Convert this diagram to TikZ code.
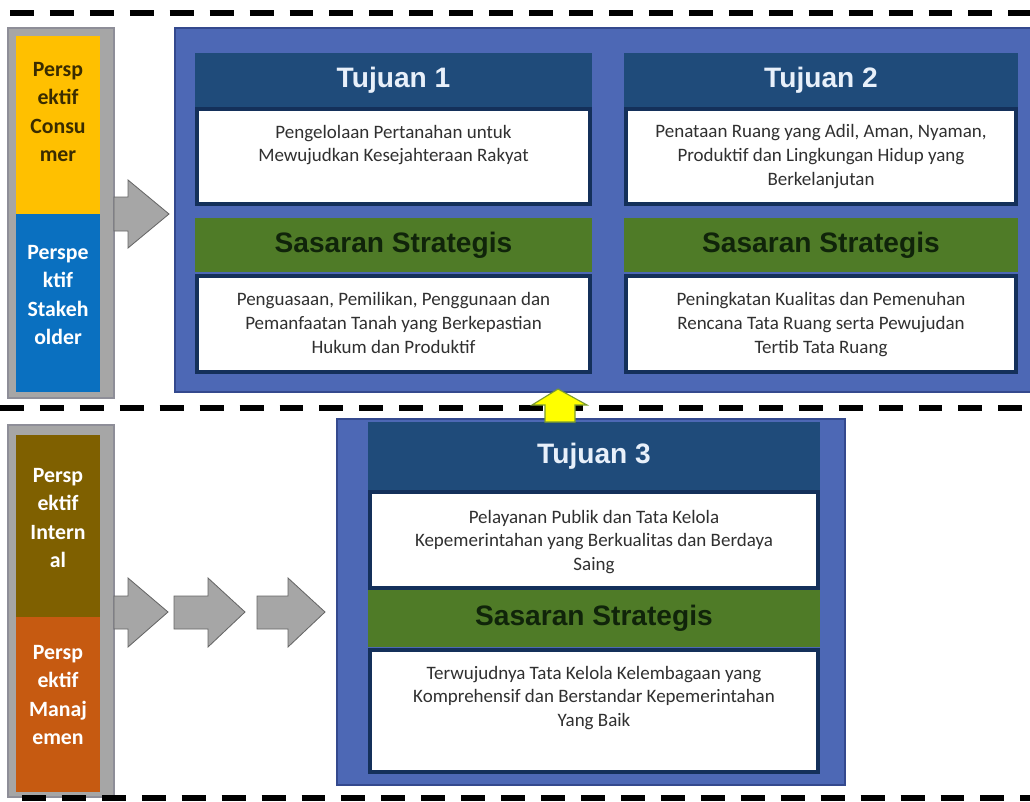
\documentclass[tikz,border=0pt]{standalone}
\usepackage{fontspec}
\setmainfont{Carlito}
\newfontfamily\headfont{Liberation Sans}
\usetikzlibrary{positioning}

\definecolor{panelblue}{HTML}{4D68B5}
\definecolor{panelline}{HTML}{34498E}
\definecolor{headblue}{HTML}{1F4B7A}
\definecolor{headtext}{HTML}{E8F0FA}
\definecolor{navyline}{HTML}{14305A}
\definecolor{sasgreen}{HTML}{4F7B27}
\definecolor{sastext}{HTML}{10240A}
\definecolor{framegray}{HTML}{A6A6A6}
\definecolor{framegrayline}{HTML}{8E8E98}
\definecolor{consyellow}{HTML}{FFC000}
\definecolor{stakeblue}{HTML}{0A70C0}
\definecolor{intolive}{HTML}{7F6000}
\definecolor{manorange}{HTML}{C65A11}
\definecolor{darkbrown}{HTML}{3A2C00}
\definecolor{bodytext}{HTML}{303030}
\definecolor{upyellow}{HTML}{FFFF00}
\definecolor{upline}{HTML}{7A9A30}

\newcommand\pxu{0.025cm}

\tikzset{
  panel/.style={draw=panelline, line width=1.5pt, fill=panelblue, inner sep=0pt},
  header/.style={fill=headblue, text=headtext, inner sep=0pt,
    font=\headfont\bfseries\fontsize{20}{22}\selectfont},
  sasaran/.style={fill=sasgreen, text=sastext, inner sep=0pt,
    font=\headfont\bfseries\fontsize{20}{22}\selectfont},
  descbox/.style={draw=navyline, line width=2.2pt, fill=white, inner sep=0pt},
  desctext/.style={align=center, text=bodytext, inner sep=0pt,
    font=\fontsize{13.5}{17}\selectfont},
  frame/.style={draw=framegrayline, line width=0.8pt, fill=framegray, inner sep=0pt},
  perspbox/.style={inner sep=0pt, minimum width=84*\pxu},
  persplabel/.style={align=center, text=white, inner sep=0pt,
    font=\bfseries\fontsize{15.5}{20}\selectfont},
  sepline/.style={line width=3.8pt, dash pattern=on 17pt off 11.4pt},
  grayarrow/.style={draw=gray!80!black, line width=0.6pt, fill=framegray},
}

\begin{document}
\begin{tikzpicture}[x=0.025cm, y=-0.025cm]
  \useasboundingbox (0,0) rectangle (1030,801);
  \clip (0,0) rectangle (1030,801);

  % dashed separators
  \draw[sepline] (10,13) -- (1030,13);
  \draw[sepline] (0,408) -- (1030,408);

  % perspektif columns
  \node[frame, minimum width=106*\pxu, minimum height=370*\pxu] (framea) at (61,213) {};
  \node[perspbox, fill=consyellow, minimum height=178*\pxu] (consumer) at (58,125) {};
  \node[perspbox, fill=stakeblue, minimum height=178*\pxu] (stakeholder) at (58,303) {};
  \node[persplabel, text=darkbrown] (consumertxt) at (58,112) {Persp\\ektif\\Consu\\mer};
  \node[persplabel] (stakeholdertxt) at (58,295) {Perspe\\ktif\\Stakeh\\older};

  \node[frame, minimum width=106*\pxu, minimum height=372*\pxu] (frameb) at (61,611) {};
  \node[perspbox, fill=intolive, minimum height=182*\pxu] (internal) at (58,526) {};
  \node[perspbox, fill=manorange, minimum height=175*\pxu] (manajemen) at (58,704.5) {};
  \node[persplabel] (internaltxt) at (58,518) {Persp\\ektif\\Intern\\al};
  \node[persplabel] (manajementxt) at (58,695) {Persp\\ektif\\Manaj\\emen};

  % block arrows
  \draw[grayarrow] (114,197) -- (128,197) -- (128,180) -- (169,214) -- (128,248)
    -- (128,231) -- (114,231) -- cycle;
  \draw[grayarrow] (114,596) -- (128,596) -- (128,578) -- (168,612) -- (128,647)
    -- (128,629) -- (114,629) -- cycle;
  \draw[grayarrow] (174,596) -- (208,596) -- (208,578) -- (245,612) -- (208,647)
    -- (208,629) -- (174,629) -- cycle;
  \draw[grayarrow] (257,596) -- (288,596) -- (288,578) -- (325,612) -- (288,647)
    -- (288,629) -- (257,629) -- cycle;

  % tujuan 1 and 2
  \node[panel, minimum width=868*\pxu, minimum height=364*\pxu] (toppanel) at (609,210) {};

  \node[header, minimum width=397*\pxu, minimum height=54*\pxu] (tujuan1) at (393.5,80) {Tujuan 1};
  \node[descbox, minimum width=393*\pxu, minimum height=95*\pxu] (desc1) at (393.5,156.5) {};
  \node[desctext] (desc1txt) at (393.5,145) {Pengelolaan Pertanahan untuk\\Mewujudkan Kesejahteraan Rakyat};
  \node[sasaran, minimum width=397*\pxu, minimum height=54*\pxu] (sas1) at (393.5,245) {Sasaran Strategis};
  \node[descbox, minimum width=393*\pxu, minimum height=96*\pxu] (ss1) at (393.5,324) {};
  \node[desctext] (ss1txt) at (393.5,323) {Penguasaan, Pemilikan, Penggunaan dan\\Pemanfaatan Tanah yang Berkepastian\\Hukum dan Produktif};

  \node[header, minimum width=394*\pxu, minimum height=54*\pxu] (tujuan2) at (821,80) {Tujuan 2};
  \node[descbox, minimum width=390*\pxu, minimum height=95*\pxu] (desc2) at (821,156.5) {};
  \node[desctext] (desc2txt) at (821,156.5) {Penataan Ruang yang Adil, Aman, Nyaman,\\Produktif dan Lingkungan Hidup yang\\Berkelanjutan};
  \node[sasaran, minimum width=394*\pxu, minimum height=54*\pxu] (sas2) at (821,245) {Sasaran Strategis};
  \node[descbox, minimum width=390*\pxu, minimum height=96*\pxu] (ss2) at (821,324) {};
  \node[desctext] (ss2txt) at (821,324.5) {Peningkatan Kualitas dan Pemenuhan\\Rencana Tata Ruang serta Pewujudan\\Tertib Tata Ruang};

  % tujuan 3
  \node[panel, minimum width=508*\pxu, minimum height=366*\pxu] (botpanel) at (591,602) {};

  \node[header, minimum width=452*\pxu, minimum height=68*\pxu] (tujuan3) at (594,456) {Tujuan 3};
  \node[descbox, minimum width=448*\pxu, minimum height=96*\pxu] (desc3) at (594,540) {};
  \node[desctext] (desc3txt) at (594,542) {Pelayanan Publik dan Tata Kelola\\Kepemerintahan yang Berkualitas dan Berdaya\\Saing};
  \node[sasaran, minimum width=452*\pxu, minimum height=57*\pxu] (sas3) at (594,618.5) {Sasaran Strategis};
  \node[descbox, minimum width=448*\pxu, minimum height=122*\pxu] (ss3) at (594,711) {};
  \node[desctext] (ss3txt) at (594,698) {Terwujudnya Tata Kelola Kelembagaan yang\\Komprehensif dan Berstandar Kepemerintahan\\Yang Baik};

  % bottom separator over the columns
  \draw[sepline] (22,798) -- (1030,798);

  % up arrow between rows
  \draw[draw=upline, line width=0.8pt, fill=upyellow] (558,389) -- (587,405) -- (575,405)
    -- (575,422) -- (545,422) -- (545,405) -- (532,405) -- cycle;
\end{tikzpicture}
\end{document}
